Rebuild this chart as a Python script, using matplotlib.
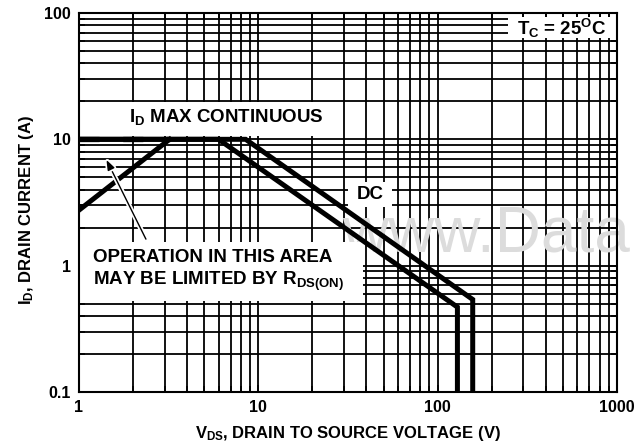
import matplotlib
matplotlib.use("Agg")
import matplotlib.pyplot as plt
import matplotlib.patheffects as pe
from matplotlib.patches import Rectangle
from matplotlib.ticker import LogLocator, NullFormatter, FixedLocator, FixedFormatter

plt.rcParams['font.family'] = ['Liberation Sans', 'DejaVu Sans']
plt.rcParams['font.weight'] = 'bold'
plt.rcParams['axes.labelweight'] = 'bold'
plt.rcParams['mathtext.fontset'] = 'custom'
plt.rcParams['mathtext.rm'] = 'Liberation Sans:bold'
plt.rcParams['mathtext.it'] = 'Liberation Sans:bold'
plt.rcParams['mathtext.bf'] = 'Liberation Sans:bold'

# DC safe operating area boundaries (two curves)
dc_lower_v = [1, 6.0, 129, 129]
dc_lower_i = [10, 10, 0.47, 0.1]
dc_upper_v = [1, 8.5, 157, 157]
dc_upper_i = [10, 10, 0.54, 0.1]

# R_DS(on) limit line and I_D max continuous (dashed)
rds_v = [1, 3.2]
rds_i = [2.75, 10]
idmax_v = [1, 3.2]
idmax_i = [10, 10]

x_ticks = [1, 10, 100, 1000]
x_labels = ['1', '10', '100', '1000']
y_ticks = [0.1, 1, 10, 100]
y_labels = ['0.1', '1', '10', '100']

fig = plt.figure(figsize=(6.34, 4.47), dpi=100)
ax = fig.add_axes([0.1246, 0.123, 0.8484, 0.848])
ax.set_xscale('log')
ax.set_yscale('log')
ax.set_xlim(1, 1000)
ax.set_ylim(0.1, 100)

ax.xaxis.set_major_locator(FixedLocator(x_ticks))
ax.xaxis.set_major_formatter(FixedFormatter(x_labels))
ax.yaxis.set_major_locator(FixedLocator(y_ticks))
ax.yaxis.set_major_formatter(FixedFormatter(y_labels))
ax.xaxis.set_minor_locator(LogLocator(base=10, subs=range(2, 10)))
ax.yaxis.set_minor_locator(LogLocator(base=10, subs=range(2, 10)))
ax.xaxis.set_minor_formatter(NullFormatter())
ax.yaxis.set_minor_formatter(NullFormatter())
ax.tick_params(which='both', direction='in', top=True, right=True, width=1.2, color='black')
ax.tick_params(which='major', length=5, labelsize=11.5, pad=6)
ax.tick_params(which='minor', length=4)
for lbl in ax.get_xticklabels() + ax.get_yticklabels():
    lbl.set_fontweight('bold')
ax.grid(True, which='both', color='black', linewidth=1.3, zorder=1)
ax.set_axisbelow(True)
for s in ax.spines.values():
    s.set_linewidth(1.5)

# white label backgrounds
for (x0, x1, y0, y1) in [(1, 27, 10.7, 19.6), (1, 38.6, 0.53, 1.55),
                         (31.8, 56, 2.9, 4.6), (246, 1000, 63, 93)]:
    ax.add_patch(Rectangle((x0, y0), x1 - x0, y1 - y0, facecolor='white',
                           edgecolor='none', zorder=2))

# watermark
ax.text(342 / 634, 1 - 252 / 447, 'www.Data', transform=fig.transFigure,
        fontsize=46, fontweight='normal', color='#dcdcdc', va='baseline',
        ha='left', zorder=1.5, clip_on=False)

ax.plot(dc_lower_v, dc_lower_i, color='black', linewidth=3.6, zorder=4,
        solid_joinstyle='miter')
ax.plot(dc_upper_v, dc_upper_i, color='black', linewidth=3.6, zorder=4,
        solid_joinstyle='miter')
ax.plot(rds_v, rds_i, color='black', linewidth=3.6, zorder=4)
ax.plot(idmax_v, idmax_i, color='black', linewidth=3.8, zorder=4,
        linestyle=(0, (3.8, 4.5)))

ax.annotate('', xy=(1.4, 7.2), xytext=(2.4, 1.55),
            arrowprops=dict(arrowstyle='-|>,head_length=0.6,head_width=0.22',
                            color='black', lw=1.0,
                            path_effects=[pe.withStroke(linewidth=3.5, foreground='white')]),
            zorder=5)

ax.text(6.6, 15, r'$I_D$ MAX CONTINUOUS', fontsize=13.5, ha='center', va='center', zorder=3)
ax.text(42, 3.65, 'DC', fontsize=13.5, ha='center', va='center', zorder=3)
ax.text(490, 76, r'$T_C$ = 25$^{O}$C', fontsize=13.5, ha='center', va='center', zorder=3)
ax.text(1.2, 1.16, 'OPERATION IN THIS AREA', fontsize=13.5, ha='left', va='center', zorder=3)
ax.text(1.2, 0.75, r'MAY BE LIMITED BY $R_{DS(ON)}$', fontsize=13.5, ha='left',
        va='center', zorder=3)

ax.set_xlabel(r'$V_{DS}$, DRAIN TO SOURCE VOLTAGE (V)', fontsize=12,
              fontweight='bold', labelpad=6)
ax.set_ylabel(r'$I_D$, DRAIN CURRENT (A)', fontsize=12, fontweight='bold')
ax.yaxis.set_label_coords(-0.08, 0.48)

fig.savefig('out.png', dpi=100)
